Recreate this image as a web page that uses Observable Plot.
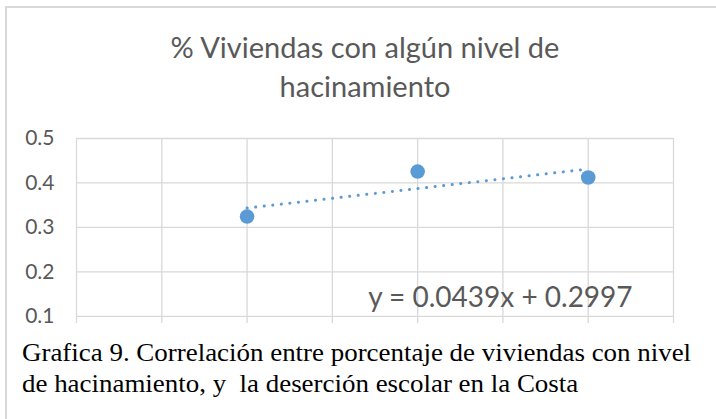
<!DOCTYPE html>
<html>
<head>
<meta charset="utf-8">
<script src="https://cdn.jsdelivr.net/npm/d3@7"></script>
<script src="https://cdn.jsdelivr.net/npm/@observablehq/plot@0.6"></script>
<style>
  body { margin: 0; background: #fff; }
  #wrap { position: relative; width: 716px; height: 419px; overflow: hidden; background: #fff; }
  #frame { position: absolute; left: 5px; top: 6px; width: 760px; height: 460px;
           border-left: 2px solid #d9d9d9; border-top: 2px solid #d9d9d9; }
  #title { position: absolute; left: 0; top: 27px; width: 730px; text-align: center;
           font-family: Lato, sans-serif; font-size: 29px; line-height: 39px; color: #595959; }
  #chart { position: absolute; left: 0; top: 110px; }
  #chart svg { overflow: visible; }
  #caption { position: absolute; left: 22px; top: 337px;
             font-family: "Liberation Serif", "Times New Roman", serif; font-size: 25px;
             line-height: 31px; color: #000; white-space: nowrap;
             transform: scaleX(1.077); transform-origin: 0 0; }
</style>
</head>
<body>
<div id="wrap">
  <div id="frame"></div>
  <div id="title">% Viviendas con algún nivel de<br>hacinamiento</div>
  <div id="chart"></div>
  <div id="caption">Grafica 9. Correlación entre porcentaje de viviendas con nivel<br>de hacinamiento, y&nbsp; la deserción escolar en la Costa</div>
</div>
<script>
// Data
const xValues = [1, 2, 3];
const yValues = [0.3245, 0.4257, 0.4123];
const yTicks = [0.1, 0.2, 0.3, 0.4, 0.5];
const xGrid = [0, 0.5, 1, 1.5, 2, 2.5, 3, 3.5];
const equationText = ["y = 0.0439x + 0.2997"];
const equationX = [2.485];
const equationY = [0.141];

const data = xValues.map((x, i) => ({x, y: yValues[i]}));
const eq = equationText.map((t, i) => ({t, x: equationX[i], y: equationY[i]}));

const blue = "#5B9BD5";
const grid = "#d9d9d9";

const chart = Plot.plot({
  width: 716,
  height: 213,
  marginTop: 28,
  marginBottom: 0,
  marginLeft: 76,
  marginRight: 43,
  style: {fontFamily: "Lato, sans-serif", color: "#595959", background: "transparent", overflow: "visible"},
  x: {domain: [0, 3.5], axis: null},
  y: {domain: [0.084, 0.5], axis: null},
  marks: [
    Plot.gridX(xGrid, {stroke: grid, strokeOpacity: 1, strokeWidth: 1.3}),
    Plot.gridY(yTicks, {stroke: grid, strokeOpacity: 1, strokeWidth: 1.3}),
    Plot.axisY(yTicks, {tickSize: 0, tickPadding: 22, fontSize: 21, label: null, tickFormat: d => d.toFixed(1)}),
    Plot.dot(data, {x: "x", y: "y", r: 7.3, fill: blue}),
    Plot.linearRegressionY(data, {x: "x", y: "y", ci: 0, stroke: blue, strokeWidth: 3,
      strokeDasharray: "0.1 8.5", strokeLinecap: "round"}),
    Plot.text(eq, {x: "x", y: "y", text: "t", fontSize: 28, lineAnchor: "middle", fill: "#595959"})
  ]
});
document.getElementById("chart").appendChild(chart);
</script>
</body>
</html>
